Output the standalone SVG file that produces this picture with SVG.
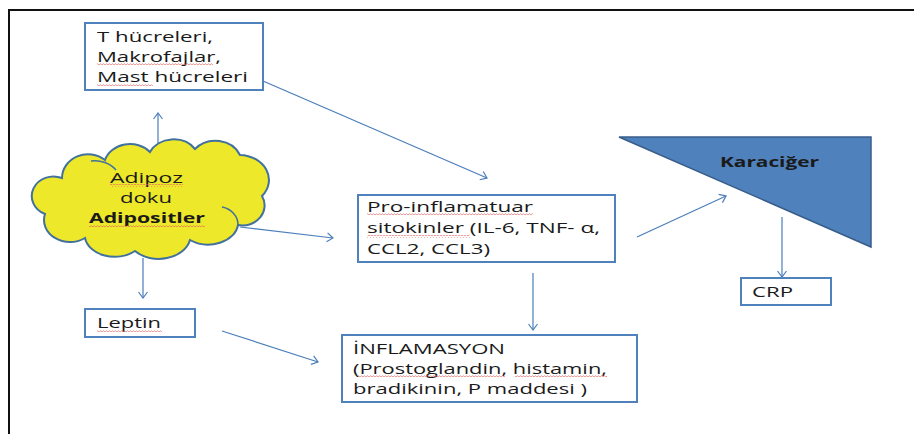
<svg xmlns="http://www.w3.org/2000/svg" width="914" height="434" viewBox="0 0 914 434">
<style>
.box{fill:#fff;stroke:#4F81BD;stroke-width:2}
.t{font-family:"Open Sans","Liberation Sans",sans-serif;font-size:15px;fill:#1a1a1a}
.b{font-weight:bold}
.c{stroke:#4A7EBB;stroke-width:1.2;fill:none;marker-end:url(#ah)}
.frame{stroke:#111;stroke-width:2;fill:none}
.sp{fill:url(#wave)}
</style>
<defs>
<marker id="ah" markerUnits="userSpaceOnUse" markerWidth="12" markerHeight="12" viewBox="-7 -6 8 12" refX="0" refY="0" orient="auto">
<path d="M-6,-4.5 L0,0 L-6,4.5" fill="none" stroke="#4A7EBB" stroke-width="1.2"/>
</marker>
<pattern id="wave" patternUnits="userSpaceOnUse" width="3" height="3">
<path d="M0,2.2 L1.5,0.6 L3,2.2" fill="none" stroke="#E06060" stroke-width="0.7"/>
</pattern>
</defs>
<rect width="914" height="434" fill="#fff"/>
<path class="frame" d="M9,434 V10 H914"/>

<g id="connectors">
<line class="c" x1="158" y1="143" x2="158" y2="113"/>
<line class="c" x1="263" y1="81" x2="487" y2="178"/>
<line class="c" x1="240" y1="227" x2="333" y2="238"/>
<line class="c" x1="143" y1="258" x2="143" y2="298"/>
<line class="c" x1="222" y1="331" x2="318" y2="362"/>
<line class="c" x1="533" y1="273" x2="533" y2="330"/>
<line class="c" x1="637" y1="237" x2="726" y2="196"/>
<line class="c" x1="782" y1="217" x2="782" y2="277"/>
</g>

<g id="tcells">
<rect class="box" x="85" y="23" width="178" height="67"/>
<text class="t" x="97" y="42" textLength="116" lengthAdjust="spacingAndGlyphs">T hücreleri,</text>
<text class="t" x="97" y="62" textLength="124" lengthAdjust="spacingAndGlyphs">Makrofajlar,</text>
<text class="t" x="97" y="82" textLength="151" lengthAdjust="spacingAndGlyphs">Mast hücreleri</text>
<rect class="sp" x="97" y="63" width="116" height="3"/>
<rect class="sp" x="97" y="83" width="56" height="3"/>
</g>

<g id="adipoz">
<path d="M62,178 A26,24 0 0 1 105,160 A26,22 0 0 1 150,152 A26,22 0 0 1 195,149 A27,24 0 0 1 240,155 A30,25 0 0 1 262,196 A22,20 0 0 1 238,225 A30,22 0 0 1 190,240 A32,24 0 0 1 135,251 A30,22 0 0 1 85,238 A26,22 0 0 1 45,214 A20,18 0 0 1 62,178 Z" fill="#EEE82A" stroke="#41719C" stroke-width="2"/>
<path d="M222,207 A20,18 0 0 1 238,225" fill="none" stroke="#41719C" stroke-width="1.5"/>
<path d="M91,161 A26,22 0 0 1 116,170" fill="none" stroke="#41719C" stroke-width="1.5"/>
<text class="t" x="110" y="183" textLength="73" lengthAdjust="spacingAndGlyphs">Adipoz</text>
<text class="t" x="120" y="203" textLength="52" lengthAdjust="spacingAndGlyphs">doku</text>
<text class="t b" x="89" y="223" textLength="116" lengthAdjust="spacingAndGlyphs">Adipositler</text>
<rect class="sp" x="110" y="184" width="73" height="3"/>
<rect class="sp" x="89" y="225" width="116" height="3"/>
</g>

<g id="proinf">
<rect class="box" x="358" y="195" width="257" height="67"/>
<text class="t" x="367" y="212" textLength="166" lengthAdjust="spacingAndGlyphs">Pro-inflamatuar</text>
<text class="t" x="367" y="233" textLength="233" lengthAdjust="spacingAndGlyphs">sitokinler (IL-6, TNF- α,</text>
<text class="t" x="367" y="254" textLength="123" lengthAdjust="spacingAndGlyphs">CCL2, CCL3)</text>
<rect class="sp" x="367" y="213" width="166" height="3"/>
<rect class="sp" x="367" y="235" width="103" height="3"/>
</g>

<g id="karaciger">
<polygon points="619,137 871,137 871,247" fill="#4F81BD" stroke="#385D8A" stroke-width="1.5"/>
<text class="t b" x="720" y="167" textLength="99" lengthAdjust="spacingAndGlyphs">Karaciğer</text>
</g>

<g id="crp">
<rect class="box" x="741" y="278" width="90" height="27"/>
<text class="t" x="752" y="297" textLength="41" lengthAdjust="spacingAndGlyphs">CRP</text>
</g>

<g id="leptin">
<rect class="box" x="85" y="309" width="110" height="28"/>
<text class="t" x="97" y="328" textLength="64" lengthAdjust="spacingAndGlyphs">Leptin</text>
<rect class="sp" x="97" y="329" width="65" height="3"/>
</g>

<g id="inflamasyon">
<rect class="box" x="342" y="335" width="295" height="67"/>
<text class="t" x="353" y="354" textLength="152" lengthAdjust="spacingAndGlyphs">İNFLAMASYON</text>
<text class="t" x="353" y="374" textLength="254" lengthAdjust="spacingAndGlyphs">(Prostoglandin, histamin,</text>
<text class="t" x="353" y="394" textLength="234" lengthAdjust="spacingAndGlyphs">bradikinin, P maddesi )</text>
<rect class="sp" x="358" y="375" width="147" height="3"/>
<rect class="sp" x="515" y="375" width="92" height="3"/>
</g>
</svg>
